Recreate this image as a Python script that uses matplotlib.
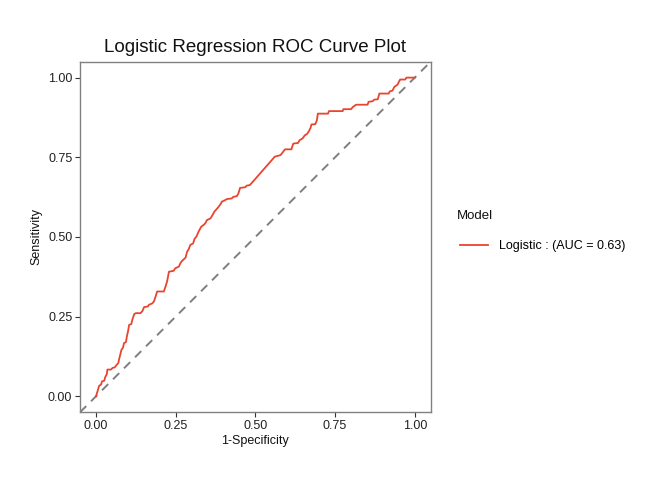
import matplotlib
matplotlib.use("Agg")
import matplotlib.pyplot as plt
from matplotlib.lines import Line2D

plt.rcParams['font.family'] = ['Liberation Sans', 'DejaVu Sans']

title = "Logistic Regression ROC Curve Plot"
x_label = "1-Specificity"
y_label = "Sensitivity"
legend_title = "Model"
series_label = "Logistic : (AUC = 0.63)"
ticks = [0.00, 0.25, 0.50, 0.75, 1.00]
tick_labels = ["0.00", "0.25", "0.50", "0.75", "1.00"]

fpr = [0.000, 0.005, 0.010, 0.016, 0.019, 0.026, 0.029, 0.034, 0.036, 0.047,
       0.052, 0.059, 0.065, 0.070, 0.073, 0.076, 0.080, 0.085, 0.088, 0.094,
       0.097, 0.101, 0.104, 0.111, 0.114, 0.120, 0.125, 0.140, 0.146, 0.151,
       0.163, 0.166, 0.177, 0.182, 0.187, 0.192, 0.213, 0.218, 0.223, 0.229,
       0.244, 0.249, 0.260, 0.265, 0.270, 0.281, 0.286, 0.291, 0.296, 0.305,
       0.309, 0.315, 0.322, 0.330, 0.338, 0.343, 0.348, 0.359, 0.367, 0.371,
       0.379, 0.385, 0.392, 0.395, 0.400, 0.411, 0.426, 0.431, 0.442, 0.447,
       0.452, 0.468, 0.473, 0.483, 0.561, 0.572, 0.579, 0.587, 0.593, 0.613,
       0.619, 0.634, 0.639, 0.648, 0.655, 0.662, 0.668, 0.673, 0.676, 0.688,
       0.693, 0.696, 0.728, 0.731, 0.774, 0.776, 0.800, 0.806, 0.816, 0.852,
       0.855, 0.868, 0.873, 0.884, 0.889, 0.918, 0.922, 0.930, 0.936, 0.946,
       0.954, 0.970, 0.974, 1.000]
tpr = [0.000, 0.016, 0.033, 0.037, 0.047, 0.049, 0.060, 0.070, 0.084, 0.084,
       0.089, 0.091, 0.099, 0.104, 0.118, 0.130, 0.146, 0.153, 0.167, 0.170,
       0.188, 0.206, 0.224, 0.227, 0.240, 0.258, 0.261, 0.261, 0.268, 0.280,
       0.282, 0.287, 0.292, 0.298, 0.313, 0.329, 0.329, 0.344, 0.360, 0.391,
       0.394, 0.402, 0.407, 0.418, 0.425, 0.435, 0.454, 0.462, 0.475, 0.480,
       0.494, 0.501, 0.517, 0.532, 0.538, 0.543, 0.553, 0.558, 0.571, 0.579,
       0.588, 0.595, 0.605, 0.611, 0.613, 0.619, 0.621, 0.626, 0.628, 0.637,
       0.654, 0.656, 0.661, 0.663, 0.752, 0.755, 0.757, 0.767, 0.775, 0.775,
       0.793, 0.795, 0.804, 0.809, 0.819, 0.823, 0.832, 0.842, 0.853, 0.854,
       0.866, 0.887, 0.887, 0.895, 0.895, 0.901, 0.901, 0.908, 0.915, 0.915,
       0.924, 0.926, 0.931, 0.932, 0.950, 0.950, 0.957, 0.959, 0.971, 0.978,
       0.994, 0.994, 1.000, 1.000]

curve_color = "#E8452F"
ref_color = "#7F7F7F"

fig = plt.figure(figsize=(6.69, 5.04), dpi=100)
ax = fig.add_axes([0.1196, 0.182, 0.5242, 0.6956])

ax.plot([-0.05, 1.05], [-0.05, 1.05], color=ref_color, lw=1.4, ls=(0, (4.5, 3.5)))
ax.plot(fpr, tpr, color=curve_color, lw=1.3)

ax.set_xlim(-0.05, 1.05)
ax.set_ylim(-0.05, 1.05)
ax.set_xticks(ticks)
ax.set_xticklabels(tick_labels)
ax.set_yticks(ticks)
ax.set_yticklabels(tick_labels)
ax.tick_params(axis='both', length=3.5, width=0.8, color='#333333',
               labelcolor='#222222', labelsize=9, pad=2)
for s in ax.spines.values():
    s.set_color('#808080')
    s.set_linewidth(1.0)

ax.set_xlabel(x_label, fontsize=9, labelpad=2, color='#111111')
ax.set_ylabel(y_label, fontsize=9, labelpad=4, color='#111111')
ax.set_title(title, fontsize=13.5, pad=7, color='#111111')

fig.text(457 / 669, 1 - 216 / 504, legend_title, fontsize=9.5, color='#111111',
         ha='left', va='center')
handle = Line2D([], [], color=curve_color, lw=1.3)
leg = fig.legend([handle], [series_label],
                 loc='center left', bbox_to_anchor=(460 / 669, 1 - 246 / 504),
                 frameon=False, fontsize=9,
                 handlelength=2.25, handletextpad=0.85, borderpad=0,
                 borderaxespad=0)

fig.savefig("out.png", dpi=100)
